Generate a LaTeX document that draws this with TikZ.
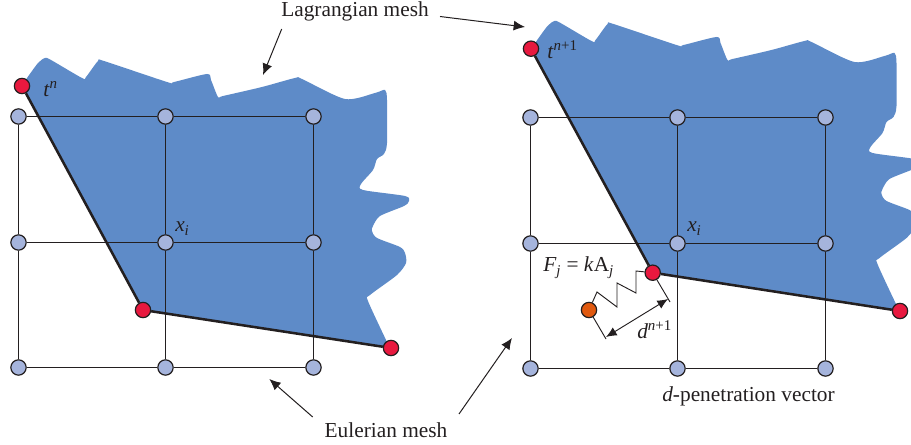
\documentclass[tikz,border=0pt]{standalone}
\usepackage{fontspec}
\usetikzlibrary{arrows.meta}
\setmainfont{Liberation Serif}
\definecolor{meshblue}{HTML}{5E8BC8}
\definecolor{gridblue}{HTML}{A5B4DC}
\definecolor{tipred}{HTML}{E8193F}
\definecolor{slaveorange}{HTML}{E0590F}
\definecolor{inkgray}{HTML}{231F20}
\newcommand{\ital}[1]{\textit{#1}}
\newcommand{\supit}[1]{\textsuperscript{\textit{#1}}}
\newcommand{\subit}[1]{\textsubscript{\textit{#1}}}
\begin{document}
\begin{tikzpicture}[x=0.75pt,y=-0.75pt,>=latex,
    gridnode/.style={draw=inkgray,circle,fill=gridblue,line width=0.9pt,minimum size=11.5pt,inner sep=0pt},
    tipnode/.style={gridnode,fill=tipred},
    slavenode/.style={gridnode,fill=slaveorange},
    gridline/.style={draw=inkgray,line width=1pt},
    edgeline/.style={draw=inkgray,line width=1.9pt},
    thinline/.style={draw=inkgray,line width=0.7pt},
    pointer/.style={thinline,line width=0.75pt,-{Latex[length=8.5pt,width=7.5pt]}},
    label/.style={text=inkgray,font=\fontsize{16}{18}\selectfont,inner sep=0pt}]
    \def\meshbody{(22,86) -- plot[smooth,tension=0.45] coordinates {(27,78) (38,63) (45,58) (51,60) (82,78) (86,77) (98,61) (104,61) (167,82) (174,82) (207,74) (211,80) (218,97) (223,96) (262,87) (295,78) (302,79) (345,99) (375,93) (385,90) (387,100) (387,143) (384,154) (377,159) (373,170) (361,184) (363,190) (405,196) (409,201) (404,206) (380,216) (373,226) (372,231) (377,238) (400,247) (405,253) (406,263) (397,275) (370,295) (368,301) (387,342)} -- (391,348) -- (143,310) -- cycle}

    \clip (0,0) rectangle (911,445);

    % Lagrangian body at time n
    \fill[meshblue] \meshbody;
    \node[gridnode] (a1) at (18.5,116.5) {};
    \node[gridnode] (a2) at (165.5,116.5) {};
    \node[gridnode] (a3) at (313.5,116.5) {};
    \node[gridnode] (a4) at (18.5,242.5) {};
    \node[gridnode] (a5) at (165.5,242.5) {};
    \node[gridnode] (a6) at (313.5,242.5) {};
    \node[gridnode] (a7) at (18.5,367.5) {};
    \node[gridnode] (a8) at (165.5,367.5) {};
    \node[gridnode] (a9) at (313.5,367.5) {};
    \draw[gridline] (a1) -- (a2);
    \draw[gridline] (a2) -- (a3);
    \draw[gridline] (a4) -- (a5);
    \draw[gridline] (a5) -- (a6);
    \draw[gridline] (a7) -- (a8);
    \draw[gridline] (a8) -- (a9);
    \draw[gridline] (a1) -- (a4);
    \draw[gridline] (a4) -- (a7);
    \draw[gridline] (a2) -- (a5);
    \draw[gridline] (a5) -- (a8);
    \draw[gridline] (a3) -- (a6);
    \draw[gridline] (a6) -- (a9);
    \node[tipnode] (p1) at (22,86) {};
    \node[tipnode] (p2) at (143,310) {};
    \node[tipnode] (p3) at (391,348) {};
    \draw[edgeline] (p1) -- (p2);
    \draw[edgeline] (p2) -- (p3);
    \node[label,anchor=base west] (tn) at (43,97) {\ital{t}\supit{n}};
    \node[label,anchor=base west] (xa) at (175,232) {\ital{x}\subit{i}};

    % Lagrangian body at time n+1
    \begin{scope}[shift={(509.5,-37)}]
        \fill[meshblue] \meshbody;
    \end{scope}
    \node[gridnode] (b1) at (530.5,117.5) {};
    \node[gridnode] (b2) at (677.5,117.5) {};
    \node[gridnode] (b3) at (825.5,117.5) {};
    \node[gridnode] (b4) at (530.5,243.5) {};
    \node[gridnode] (b5) at (677.5,243.5) {};
    \node[gridnode] (b6) at (825.5,243.5) {};
    \node[gridnode] (b7) at (530.5,368.5) {};
    \node[gridnode] (b8) at (677.5,368.5) {};
    \node[gridnode] (b9) at (825.5,368.5) {};
    \draw[gridline] (b1) -- (b2);
    \draw[gridline] (b2) -- (b3);
    \draw[gridline] (b4) -- (b5);
    \draw[gridline] (b5) -- (b6);
    \draw[gridline] (b7) -- (b8);
    \draw[gridline] (b8) -- (b9);
    \draw[gridline] (b1) -- (b4);
    \draw[gridline] (b4) -- (b7);
    \draw[gridline] (b2) -- (b5);
    \draw[gridline] (b5) -- (b8);
    \draw[gridline] (b3) -- (b6);
    \draw[gridline] (b6) -- (b9);
    \node[tipnode] (q1) at (531,48.7) {};
    \node[tipnode] (q2) at (652.7,272.7) {};
    \node[tipnode] (q3) at (900,311) {};
    \draw[edgeline] (q1) -- (q2);
    \draw[edgeline] (q2) -- (q3);
    \node[label,anchor=base west] (tm) at (547,59) {\ital{t}\textsuperscript{\ital{n}+1}};
    \node[label,anchor=base west] (xb) at (687,232) {\ital{x}\subit{i}};

    % penetration spring and vector
    \node[slavenode] (s) at (589,310) {};
    \coordinate (k1) at (597,292);
    \coordinate (k2) at (617,307);
    \coordinate (k3) at (617,283);
    \coordinate (k4) at (636,293);
    \coordinate (k5) at (636,271);
    \draw[thinline] (s) -- (k1) -- (k2) -- (k3) -- (k4) -- (k5) -- (q2);
    \coordinate (e1) at (670,302);
    \coordinate (e2) at (606,339);
    \draw[thinline] (q2) -- (e1);
    \draw[thinline] (s) -- (e2);
    \coordinate (d1) at (668,299);
    \coordinate (d2) at (606,337);
    \draw[thinline,{Latex[length=8pt,width=7pt]}-{Latex[length=8pt,width=7pt]}] (d2) -- (d1);
    \node[label,anchor=base west] (fj) at (543,272) {\ital{F}\subit{j} = \ital{k}A\subit{j}};
    \node[label,anchor=base west] (dn) at (637,339) {\ital{d}\textsuperscript{\ital{n}+1}};
    \node[label,anchor=base west] (pv) at (662,402) {\ital{d}-penetration vector};

    % mesh labels
    \node[label,anchor=base] (lm) at (355,17) {Lagrangian mesh};
    \node[label,anchor=base] (em) at (386,437) {Eulerian mesh};
    \coordinate (l1) at (281.7,29);
    \coordinate (l2) at (263,75);
    \coordinate (l3) at (440,16.5);
    \coordinate (l4) at (525,27);
    \coordinate (e3) at (312.7,417);
    \coordinate (e4) at (269.3,379);
    \coordinate (e5) at (459,414);
    \coordinate (e6) at (512,338);
    \draw[pointer] (l1) -- (l2);
    \draw[pointer] (l3) -- (l4);
    \draw[pointer] (e3) -- (e4);
    \draw[pointer] (e5) -- (e6);
\end{tikzpicture}
\end{document}
